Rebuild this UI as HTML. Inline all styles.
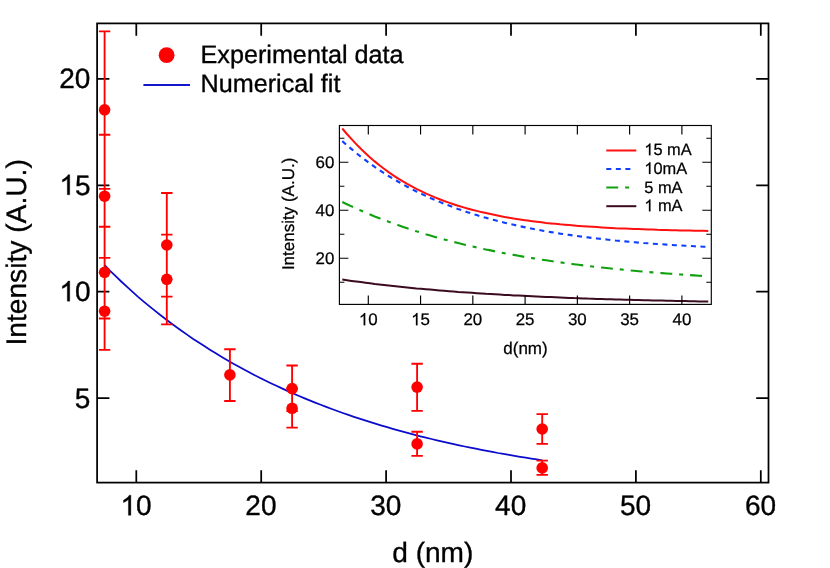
<!DOCTYPE html>
<html><head><meta charset="utf-8"><title>chart</title>
<style>html,body{margin:0;padding:0;background:#fff;overflow:hidden}body{width:830px;height:568px}svg{position:absolute;left:0;top:0;will-change:transform}text{stroke:#000;stroke-width:.35px;stroke-linejoin:round}.i text{stroke-width:.25px}</style></head>
<body>
<svg width="830" height="568" viewBox="0 0 830 568" style="display:block;text-rendering:geometricPrecision;font-family:'Liberation Sans',sans-serif">
<rect width="830" height="568" fill="#fff"/>
<path d="M136.30 482.6V470.30M136.30 23.4V35.70M261.20 482.6V470.30M261.20 23.4V35.70M386.10 482.6V470.30M386.10 23.4V35.70M511.00 482.6V470.30M511.00 23.4V35.70M635.90 482.6V470.30M635.90 23.4V35.70M760.80 482.6V470.30M760.80 23.4V35.70M97.1 398.00H109.40M768.5 398.00H756.20M97.1 291.63H109.40M768.5 291.63H756.20M97.1 185.27H109.40M768.5 185.27H756.20M97.1 78.91H109.40M768.5 78.91H756.20" stroke="#000" stroke-width="1.75" fill="none"/>
<rect x="97.1" y="23.4" width="671.40" height="459.20" fill="none" stroke="#000" stroke-width="1.75"/>
<path d="M763 0H583V1147Q518 1085 412.5 1023T223 930V1104Q374 1175 487 1276T647 1472H763Z" transform="translate(120.43 515.30) scale(0.01367 -0.01367)" fill="#000" stroke="#000" stroke-width="25.6" stroke-linejoin="round"/>
<text x="136.00" y="515.30" font-size="28.0">0</text>
<text x="260.90" y="515.30" font-size="28.0" text-anchor="middle">20</text>
<text x="385.80" y="515.30" font-size="28.0" text-anchor="middle">30</text>
<text x="510.70" y="515.30" font-size="28.0" text-anchor="middle">40</text>
<text x="635.60" y="515.30" font-size="28.0" text-anchor="middle">50</text>
<text x="760.50" y="515.30" font-size="28.0" text-anchor="middle">60</text>
<text x="90.45" y="407.50" font-size="28.0" text-anchor="end">5</text>
<path d="M763 0H583V1147Q518 1085 412.5 1023T223 930V1104Q374 1175 487 1276T647 1472H763Z" transform="translate(59.31 301.13) scale(0.01367 -0.01367)" fill="#000" stroke="#000" stroke-width="25.6" stroke-linejoin="round"/>
<text x="74.88" y="301.13" font-size="28.0">0</text>
<path d="M763 0H583V1147Q518 1085 412.5 1023T223 930V1104Q374 1175 487 1276T647 1472H763Z" transform="translate(59.31 194.77) scale(0.01367 -0.01367)" fill="#000" stroke="#000" stroke-width="25.6" stroke-linejoin="round"/>
<text x="74.88" y="194.77" font-size="28.0">5</text>
<text x="90.45" y="88.41" font-size="28.0" text-anchor="end">20</text>
<text x="432.8" y="562.0" font-size="28.1" text-anchor="middle">d (nm)</text>
<text transform="translate(26.4 252.4) rotate(-90)" font-size="28.2" text-anchor="middle">Intensity (A.U.)</text>
<circle cx="166.6" cy="55.2" r="7.9" fill="#f00"/>
<path d="M143.4 85.0H190" stroke="#1515cc" stroke-width="1.9"/>
<text x="200.5" y="62.9" font-size="25.2">Experimental data</text>
<text x="200.5" y="92.0" font-size="25.2">Numerical fit</text>
<path d="M104.6 265.1 L110.1 270.8 L115.7 276.2 L121.2 281.5 L126.8 286.7 L132.3 291.7 L137.8 296.6 L143.4 301.3 L148.9 305.9 L154.5 310.4 L160.0 314.8 L165.5 319.0 L171.1 323.2 L176.6 327.3 L182.2 331.2 L187.7 335.1 L193.2 338.9 L198.8 342.5 L204.3 346.1 L209.9 349.7 L215.4 353.1 L221.0 356.4 L226.5 359.7 L232.0 362.9 L237.6 366.0 L243.1 369.0 L248.7 372.0 L254.2 374.9 L259.7 377.7 L265.3 380.5 L270.8 383.2 L276.4 385.8 L281.9 388.4 L287.4 390.9 L293.0 393.4 L298.5 395.7 L304.1 398.1 L309.6 400.4 L315.1 402.6 L320.7 404.8 L326.2 406.9 L331.8 409.0 L337.3 411.0 L342.8 413.0 L348.4 414.9 L353.9 416.8 L359.5 418.6 L365.0 420.4 L370.5 422.2 L376.1 423.9 L381.6 425.6 L387.2 427.2 L392.7 428.8 L398.2 430.4 L403.8 431.9 L409.3 433.4 L414.9 434.9 L420.4 436.3 L425.9 437.7 L431.5 439.0 L437.0 440.3 L442.6 441.6 L448.1 442.9 L453.7 444.1 L459.2 445.3 L464.7 446.5 L470.3 447.6 L475.8 448.7 L481.4 449.8 L486.9 450.9 L492.4 451.9 L498.0 453.0 L503.5 453.9 L509.1 454.9 L514.6 455.9 L520.1 456.8 L525.7 457.7 L531.2 458.6 L536.8 459.4 L542.3 460.3" fill="none" stroke="#0b0bcc" stroke-width="1.75"/>
<path d="M104.6 31.3V188.8M98.89999999999999 31.3H110.3M98.89999999999999 188.8H110.3M104.6 134.7V257.8M98.89999999999999 134.7H110.3M98.89999999999999 257.8H110.3M104.6 226.7V318.5M98.89999999999999 226.7H110.3M98.89999999999999 318.5H110.3M104.6 272.6V349.8M98.89999999999999 272.6H110.3M98.89999999999999 349.8H110.3M166.8 193V296.6M161.10000000000002 193H172.5M161.10000000000002 296.6H172.5M166.8 234.6V324.3M161.10000000000002 234.6H172.5M161.10000000000002 324.3H172.5M229.9 349.2V401.0M224.20000000000002 349.2H235.6M224.20000000000002 401.0H235.6M292.1 365.5V411.0M286.40000000000003 365.5H297.8M286.40000000000003 411.0H297.8M292.1 388.5V427.6M286.40000000000003 388.5H297.8M286.40000000000003 427.6H297.8M417.1 363.7V410.9M411.40000000000003 363.7H422.8M411.40000000000003 410.9H422.8M417.1 431.7V455.8M411.40000000000003 431.7H422.8M411.40000000000003 455.8H422.8M542.2 414.1V443.9M536.5 414.1H547.9000000000001M536.5 443.9H547.9000000000001M542.2 460.6V474.8M536.5 460.6H547.9000000000001M536.5 474.8H547.9000000000001" stroke="#ff0000" stroke-width="1.85" fill="none"/>
<circle cx="104.6" cy="109.8" r="5.8" fill="#ff0000"/>
<circle cx="104.6" cy="196.2" r="5.8" fill="#ff0000"/>
<circle cx="104.6" cy="272.3" r="5.8" fill="#ff0000"/>
<circle cx="104.6" cy="311.2" r="5.8" fill="#ff0000"/>
<circle cx="166.8" cy="245.0" r="5.8" fill="#ff0000"/>
<circle cx="166.8" cy="279.3" r="5.8" fill="#ff0000"/>
<circle cx="229.9" cy="374.9" r="5.8" fill="#ff0000"/>
<circle cx="292.1" cy="388.6" r="5.8" fill="#ff0000"/>
<circle cx="292.1" cy="408.3" r="5.8" fill="#ff0000"/>
<circle cx="417.1" cy="387.1" r="5.8" fill="#ff0000"/>
<circle cx="417.1" cy="443.9" r="5.8" fill="#ff0000"/>
<circle cx="542.2" cy="429.0" r="5.8" fill="#ff0000"/>
<circle cx="542.2" cy="467.9" r="5.8" fill="#ff0000"/>
<rect x="339.4" y="125.5" width="371.90" height="178.90" fill="#fff" stroke="none"/>
<path d="M342.3 279.5 L346.9 280.2 L351.6 280.9 L356.2 281.5 L360.8 282.1 L365.5 282.7 L370.1 283.3 L374.7 283.9 L379.4 284.4 L384.0 285.0 L388.6 285.5 L393.3 286.0 L397.9 286.5 L402.5 287.0 L407.2 287.5 L411.8 287.9 L416.4 288.4 L421.1 288.8 L425.7 289.2 L430.3 289.6 L435.0 290.0 L439.6 290.4 L444.2 290.8 L448.9 291.2 L453.5 291.5 L458.1 291.9 L462.8 292.2 L467.4 292.5 L472.0 292.8 L476.7 293.2 L481.3 293.5 L485.9 293.8 L490.6 294.0 L495.2 294.3 L499.8 294.6 L504.5 294.9 L509.1 295.1 L513.7 295.4 L518.4 295.6 L523.0 295.8 L527.6 296.1 L532.2 296.3 L536.9 296.5 L541.5 296.7 L546.1 296.9 L550.8 297.1 L555.4 297.3 L560.0 297.5 L564.7 297.7 L569.3 297.9 L573.9 298.1 L578.6 298.2 L583.2 298.4 L587.8 298.6 L592.5 298.7 L597.1 298.9 L601.7 299.0 L606.4 299.2 L611.0 299.3 L615.6 299.4 L620.3 299.6 L624.9 299.7 L629.5 299.8 L634.2 300.0 L638.8 300.1 L643.4 300.2 L648.1 300.3 L652.7 300.4 L657.3 300.5 L662.0 300.6 L666.6 300.7 L671.2 300.8 L675.9 300.9 L680.5 301.0 L685.1 301.1 L689.8 301.2 L694.4 301.3 L699.0 301.4 L703.7 301.4 L708.3 301.5" fill="none" stroke="#3a0a1e" stroke-width="2.0"/>
<path d="M342.3 202.0 L346.9 204.2 L351.6 206.4 L356.2 208.5 L360.8 210.5 L365.5 212.5 L370.1 214.5 L374.7 216.4 L379.4 218.2 L384.0 220.0 L388.6 221.7 L393.3 223.4 L397.9 225.1 L402.5 226.7 L407.2 228.3 L411.8 229.8 L416.4 231.3 L421.1 232.7 L425.7 234.2 L430.3 235.5 L435.0 236.9 L439.6 238.2 L444.2 239.4 L448.9 240.7 L453.5 241.9 L458.1 243.1 L462.8 244.2 L467.4 245.3 L472.0 246.4 L476.7 247.4 L481.3 248.5 L485.9 249.5 L490.6 250.4 L495.2 251.4 L499.8 252.3 L504.5 253.2 L509.1 254.1 L513.7 254.9 L518.4 255.8 L523.0 256.6 L527.6 257.4 L532.2 258.1 L536.9 258.9 L541.5 259.6 L546.1 260.3 L550.8 261.0 L555.4 261.7 L560.0 262.3 L564.7 263.0 L569.3 263.6 L573.9 264.2 L578.6 264.8 L583.2 265.4 L587.8 265.9 L592.5 266.5 L597.1 267.0 L601.7 267.5 L606.4 268.0 L611.0 268.5 L615.6 269.0 L620.3 269.4 L624.9 269.9 L629.5 270.3 L634.2 270.8 L638.8 271.2 L643.4 271.6 L648.1 272.0 L652.7 272.4 L657.3 272.7 L662.0 273.1 L666.6 273.5 L671.2 273.8 L675.9 274.1 L680.5 274.5 L685.1 274.8 L689.8 275.1 L694.4 275.4 L699.0 275.7 L703.7 276.0 L708.3 276.3" fill="none" stroke="#10a010" stroke-width="2.1" stroke-dasharray="11.9 6.9 4 7.0"/>
<path d="M342.3 141.1 L346.9 145.2 L351.6 149.1 L356.2 153.0 L360.8 156.6 L365.5 160.2 L370.1 163.6 L374.7 166.9 L379.4 170.0 L384.0 173.1 L388.6 176.0 L393.3 178.8 L397.9 181.5 L402.5 184.2 L407.2 186.7 L411.8 189.1 L416.4 191.5 L421.1 193.7 L425.7 195.9 L430.3 198.0 L435.0 200.0 L439.6 201.9 L444.2 203.8 L448.9 205.6 L453.5 207.3 L458.1 209.0 L462.8 210.6 L467.4 212.2 L472.0 213.7 L476.7 215.1 L481.3 216.5 L485.9 217.8 L490.6 219.1 L495.2 220.3 L499.8 221.5 L504.5 222.7 L509.1 223.8 L513.7 224.8 L518.4 225.9 L523.0 226.9 L527.6 227.8 L532.2 228.7 L536.9 229.6 L541.5 230.5 L546.1 231.3 L550.8 232.1 L555.4 232.8 L560.0 233.6 L564.7 234.3 L569.3 234.9 L573.9 235.6 L578.6 236.2 L583.2 236.8 L587.8 237.4 L592.5 238.0 L597.1 238.5 L601.7 239.0 L606.4 239.5 L611.0 240.0 L615.6 240.5 L620.3 240.9 L624.9 241.4 L629.5 241.8 L634.2 242.2 L638.8 242.6 L643.4 243.0 L648.1 243.3 L652.7 243.7 L657.3 244.0 L662.0 244.3 L666.6 244.6 L671.2 244.9 L675.9 245.2 L680.5 245.5 L685.1 245.7 L689.8 246.0 L694.4 246.3 L699.0 246.5 L703.7 246.7 L708.3 246.9" fill="none" stroke="#1040ff" stroke-width="2.1" stroke-dasharray="5 4.53"/>
<path d="M342.3 128.5 L346.9 134.0 L351.6 139.2 L356.2 144.1 L360.8 148.8 L365.5 153.2 L370.1 157.4 L374.7 161.4 L379.4 165.2 L384.0 168.7 L388.6 172.1 L393.3 175.3 L397.9 178.3 L402.5 181.2 L407.2 183.9 L411.8 186.4 L416.4 188.9 L421.1 191.2 L425.7 193.4 L430.3 195.4 L435.0 197.4 L439.6 199.2 L444.2 201.0 L448.9 202.6 L453.5 204.2 L458.1 205.7 L462.8 207.1 L467.4 208.5 L472.0 209.7 L476.7 210.9 L481.3 212.1 L485.9 213.1 L490.6 214.1 L495.2 215.1 L499.8 216.0 L504.5 216.9 L509.1 217.7 L513.7 218.5 L518.4 219.2 L523.0 219.9 L527.6 220.6 L532.2 221.2 L536.9 221.8 L541.5 222.3 L546.1 222.9 L550.8 223.4 L555.4 223.8 L560.0 224.3 L564.7 224.7 L569.3 225.1 L573.9 225.5 L578.6 225.9 L583.2 226.2 L587.8 226.5 L592.5 226.8 L597.1 227.1 L601.7 227.4 L606.4 227.7 L611.0 227.9 L615.6 228.2 L620.3 228.4 L624.9 228.6 L629.5 228.8 L634.2 229.0 L638.8 229.1 L643.4 229.3 L648.1 229.5 L652.7 229.6 L657.3 229.8 L662.0 229.9 L666.6 230.0 L671.2 230.2 L675.9 230.3 L680.5 230.4 L685.1 230.5 L689.8 230.6 L694.4 230.7 L699.0 230.8 L703.7 230.8 L708.3 230.9" fill="none" stroke="#ff1010" stroke-width="2.0"/>
<path d="M368.30 304.4V295.40M368.30 125.5V134.50M420.56 304.4V295.40M420.56 125.5V134.50M472.83 304.4V295.40M472.83 125.5V134.50M525.10 304.4V295.40M525.10 125.5V134.50M577.36 304.4V295.40M577.36 125.5V134.50M629.62 304.4V295.40M629.62 125.5V134.50M681.89 304.4V295.40M681.89 125.5V134.50M339.4 258.20H348.40M711.3 258.20H702.30M339.4 210.20H348.40M711.3 210.20H702.30M339.4 162.20H348.40M711.3 162.20H702.30M339.4 282.20H344.40M711.3 282.20H706.30M339.4 234.20H344.40M711.3 234.20H706.30M339.4 186.20H344.40M711.3 186.20H706.30M339.4 138.20H344.40M711.3 138.20H706.30" stroke="#000" stroke-width="1.15" fill="none"/>
<rect x="339.4" y="125.5" width="371.90" height="178.90" fill="none" stroke="#000" stroke-width="1.15"/>
<g class="i">
<path d="M763 0H583V1147Q518 1085 412.5 1023T223 930V1104Q374 1175 487 1276T647 1472H763Z" transform="translate(358.90 325.20) scale(0.00825 -0.00825)" fill="#000" stroke="#000" stroke-width="30.3" stroke-linejoin="round"/>
<text x="368.30" y="325.20" font-size="16.9">0</text>
<path d="M763 0H583V1147Q518 1085 412.5 1023T223 930V1104Q374 1175 487 1276T647 1472H763Z" transform="translate(411.17 325.20) scale(0.00825 -0.00825)" fill="#000" stroke="#000" stroke-width="30.3" stroke-linejoin="round"/>
<text x="420.56" y="325.20" font-size="16.9">5</text>
<text x="472.83" y="325.20" font-size="16.9" text-anchor="middle">20</text>
<text x="525.10" y="325.20" font-size="16.9" text-anchor="middle">25</text>
<text x="577.36" y="325.20" font-size="16.9" text-anchor="middle">30</text>
<text x="629.62" y="325.20" font-size="16.9" text-anchor="middle">35</text>
<text x="681.89" y="325.20" font-size="16.9" text-anchor="middle">40</text>
<text x="334.3" y="264.20" font-size="16.9" text-anchor="end">20</text>
<text x="334.3" y="216.20" font-size="16.9" text-anchor="end">40</text>
<text x="334.3" y="168.20" font-size="16.9" text-anchor="end">60</text>
<text x="525.5" y="354" font-size="17" text-anchor="middle">d(nm)</text>
<text transform="translate(293.8 213.9) rotate(-90)" font-size="17" text-anchor="middle">Intensity (A.U.)</text>
<path d="M606.3 150.5H636.3" stroke="#ff1010" stroke-width="2"/>
<path d="M763 0H583V1147Q518 1085 412.5 1023T223 930V1104Q374 1175 487 1276T647 1472H763Z" transform="translate(644.30 155.20) scale(0.00801 -0.00801)" fill="#000" stroke="#000" stroke-width="31.2" stroke-linejoin="round"/>
<text x="653.42" y="155.20" font-size="16.4">5 mA</text>
<path d="M606.3 169.1H631.0" stroke="#1040ff" stroke-width="2" stroke-dasharray="5 4.53"/>
<path d="M763 0H583V1147Q518 1085 412.5 1023T223 930V1104Q374 1175 487 1276T647 1472H763Z" transform="translate(644.30 174.00) scale(0.00801 -0.00801)" fill="#000" stroke="#000" stroke-width="31.2" stroke-linejoin="round"/>
<text x="653.42" y="174.00" font-size="16.4">0mA</text>
<path d="M606.3 187.6H635.9" stroke="#10a010" stroke-width="2" stroke-dasharray="11.9 6.9 4 7.0"/>
<text x="644.30" y="192.80" font-size="16.4" text-anchor="start">5 mA</text>
<path d="M606.3 206.2H636.3" stroke="#3a0a1e" stroke-width="2"/>
<path d="M763 0H583V1147Q518 1085 412.5 1023T223 930V1104Q374 1175 487 1276T647 1472H763Z" transform="translate(644.30 211.30) scale(0.00801 -0.00801)" fill="#000" stroke="#000" stroke-width="31.2" stroke-linejoin="round"/>
<text x="657.98" y="211.30" font-size="16.4">mA</text>
</g>
</svg>
</body></html>
